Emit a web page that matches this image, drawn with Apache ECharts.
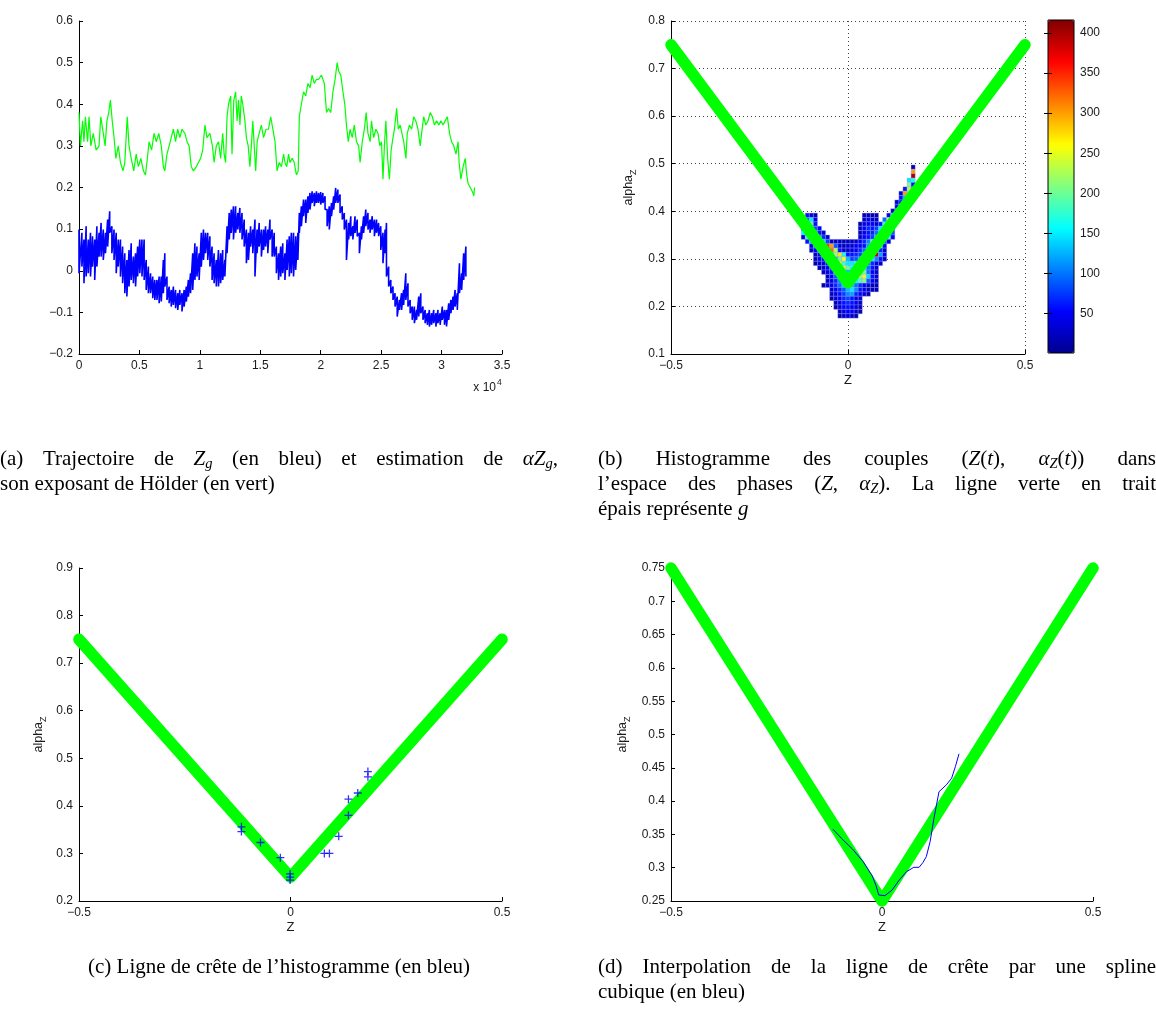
<!DOCTYPE html>
<html>
<head>
<meta charset="utf-8">
<title>Z_g, alpha_Z et ligne de crête</title>
<script src="https://cdn.jsdelivr.net/npm/echarts@6.0.0/dist/echarts.min.js"></script>
<style>
html, body { margin: 0; padding: 0; background: #fff; }
#chart { width: 1156px; height: 1021px; }
</style>
</head>
<body>
<div id="chart"></div>
<script>
// (a) trajectoire, temps en unités de 10^4 échantillons
// estimation de l'exposant de Hölder (vert) : [t, valeur]
const greenTrace = [
  [0, .38], [.012, .30], [.030, .36], [.041, .31], [.053, .37], [.071, .31], [.083, .37], [.098, .30],
  [.118, .33], [.142, .29], [.166, .30], [.180, .37], [.201, .33], [.216, .30], [.231, .36], [.246, .38],
  [.260, .41], [.275, .36], [.290, .32], [.305, .27], [.325, .30], [.343, .26], [.364, .24], [.379, .26],
  [.399, .37], [.414, .30], [.432, .27], [.453, .24], [.473, .28], [.491, .25], [.512, .27], [.533, .24],
  [.550, .23], [.562, .26], [.580, .31], [.601, .29], [.621, .33], [.639, .31], [.660, .33], [.681, .30],
  [.698, .25], [.710, .24], [.728, .28], [.746, .30], [.763, .32], [.781, .34], [.799, .31], [.817, .34],
  [.834, .32], [.852, .34], [.876, .33], [.894, .31], [.911, .30], [.929, .25], [.947, .24], [.971, .25],
  [.988, .26], [1.006, .27], [1.024, .29], [1.042, .35], [1.059, .32], [1.083, .33], [1.104, .30], [1.118, .26],
  [1.136, .30], [1.154, .31], [1.172, .27], [1.189, .33], [1.201, .28], [1.213, .26], [1.225, .37], [1.237, .40],
  [1.255, .42], [1.266, .28], [1.281, .41], [1.296, .43], [1.308, .36], [1.320, .41], [1.332, .35], [1.343, .42],
  [1.355, .40], [1.373, .36], [1.385, .32], [1.400, .30], [1.414, .25], [1.426, .30], [1.438, .36], [1.450, .30],
  [1.462, .24], [1.474, .31], [1.491, .33], [1.509, .35], [1.527, .32], [1.548, .34], [1.568, .34], [1.586, .37],
  [1.604, .34], [1.622, .31], [1.639, .24], [1.657, .26], [1.675, .25], [1.693, .28], [1.704, .26], [1.719, .25],
  [1.734, .28], [1.746, .26], [1.764, .27], [1.781, .26], [1.799, .23], [1.814, .24], [1.823, .37], [1.840, .40],
  [1.858, .43], [1.876, .42], [1.894, .45], [1.912, .44], [1.929, .47], [1.947, .45], [1.965, .46], [1.983, .46],
  [2.006, .47], [2.030, .45], [2.048, .38], [2.065, .39], [2.083, .38], [2.101, .43], [2.119, .46], [2.136, .50],
  [2.148, .48], [2.166, .47], [2.184, .43], [2.199, .40], [2.213, .35], [2.228, .31], [2.243, .34], [2.261, .32],
  [2.278, .35], [2.296, .31], [2.314, .30], [2.326, .26], [2.344, .31], [2.361, .34], [2.376, .38], [2.391, .33],
  [2.409, .31], [2.420, .36], [2.438, .32], [2.456, .34], [2.474, .33], [2.489, .30], [2.503, .31], [2.515, .22],
  [2.527, .30], [2.539, .36], [2.554, .27], [2.568, .22], [2.583, .29], [2.598, .32], [2.610, .34], [2.628, .39],
  [2.642, .34], [2.657, .35], [2.672, .33], [2.687, .31], [2.705, .27], [2.716, .33], [2.734, .35], [2.752, .34],
  [2.770, .37], [2.787, .36], [2.805, .34], [2.823, .30], [2.835, .33], [2.852, .37], [2.870, .35], [2.888, .36],
  [2.906, .38], [2.924, .37], [2.941, .35], [2.959, .36], [2.977, .35], [2.995, .36], [3.012, .35], [3.030, .36],
  [3.048, .37], [3.066, .33], [3.083, .31], [3.101, .30], [3.119, .28], [3.137, .31], [3.145, .26], [3.160, .22],
  [3.178, .25], [3.196, .27], [3.208, .23], [3.219, .21], [3.237, .20], [3.255, .19], [3.267, .18], [3.273, .20]
]

// trajectoire Z_g (bleu), bande bruitée : [t, haut, bas]
const blueTrace = [
  [0, .099, -.006], [.024, .091, .010], [.041, .075, -.030], [.059, .107, -.014], [.077, .075, -.006],
  [.095, .091, -.014], [.112, .083, .010], [.130, .075, -.022], [.148, .107, .010], [.166, .091, .034],
  [.183, .115, .034], [.201, .099, .026], [.219, .091, .042], [.237, .123, .058], [.254, .143, .091],
  [.272, .107, .042], [.290, .099, .026], [.308, .091, -.006], [.325, .075, .010], [.343, .075, -.014],
  [.361, .058, -.030], [.379, .042, -.054], [.396, .026, -.062], [.414, .050, -.038], [.432, .066, -.022],
  [.450, .034, -.030], [.468, .042, -.038], [.485, .058, -.014], [.503, .075, -.006], [.521, .075, -.014],
  [.539, .075, -.022], [.556, .026, -.046], [.574, .010, -.054], [.592, -.006, -.054], [.610, -.014, -.066],
  [.627, -.022, -.070], [.645, -.022, -.070], [.663, -.014, -.078], [.681, -.014, -.074], [.698, .026, -.054],
  [.710, .042, -.038], [.728, -.014, -.070], [.746, -.038, -.078], [.763, -.046, -.086], [.781, -.038, -.082],
  [.799, -.046, -.090], [.817, -.054, -.094], [.834, -.046, -.082], [.852, -.054, -.098], [.870, -.046, -.086],
  [.888, -.038, -.074], [.905, -.022, -.062], [.923, -.006, -.054], [.941, .042, -.046], [.959, .066, -.022],
  [.976, .058, -.014], [.994, .042, -.022], [1.012, .091, .010], [1.030, .099, .026], [1.047, .091, .042],
  [1.065, .091, .026], [1.083, .083, .010], [1.101, .058, -.022], [1.118, .042, -.030], [1.136, .026, -.038],
  [1.154, .050, -.038], [1.172, .042, -.030], [1.189, .050, -.022], [1.207, .026, -.014], [1.225, .107, .042],
  [1.243, .139, .075], [1.260, .147, .091], [1.278, .155, .075], [1.296, .155, .091], [1.314, .139, .099],
  [1.331, .151, .091], [1.349, .139, .075], [1.367, .123, .058], [1.385, .099, .018], [1.402, .091, .026],
  [1.420, .107, .058], [1.438, .099, .042], [1.456, .123, -.014], [1.473, .099, .042], [1.491, .115, .058],
  [1.509, .099, .034], [1.527, .099, .050], [1.544, .107, .058], [1.562, .099, .042], [1.580, .123, .075],
  [1.598, .099, .034], [1.615, .091, .034], [1.633, .058, -.006], [1.651, .042, -.022], [1.669, .058, -.014],
  [1.686, .066, -.006], [1.704, .042, -.022], [1.722, .075, .002], [1.740, .083, -.014], [1.757, .091, -.006],
  [1.775, .091, -.014], [1.793, .083, .002], [1.811, .091, .026], [1.823, .139, .091], [1.840, .155, .107],
  [1.858, .171, .131], [1.876, .171, .115], [1.894, .179, .139], [1.911, .187, .147], [1.929, .191, .163],
  [1.947, .187, .155], [1.965, .191, .163], [1.982, .187, .163], [2.000, .189, .159], [2.018, .187, .163],
  [2.036, .179, .147], [2.053, .147, .107], [2.071, .155, .099], [2.089, .163, .131], [2.107, .179, .147],
  [2.124, .199, .163], [2.142, .195, .163], [2.160, .183, .139], [2.178, .155, .123], [2.195, .139, .099],
  [2.213, .123, .026], [2.231, .115, .075], [2.249, .131, .083], [2.266, .107, .075], [2.284, .131, .091],
  [2.302, .123, .083], [2.320, .091, .042], [2.337, .107, .075], [2.355, .131, .091], [2.373, .147, .107],
  [2.391, .139, .099], [2.408, .123, .091], [2.426, .131, .099], [2.444, .123, .083], [2.462, .123, .091],
  [2.479, .115, .083], [2.497, .107, .050], [2.515, .091, .018], [2.533, .099, .042], [2.544, .115, -.014],
  [2.562, .010, -.038], [2.580, -.022, -.054], [2.598, -.038, -.070], [2.615, -.054, -.086], [2.633, -.062, -.110],
  [2.651, -.070, -.094], [2.669, -.054, -.094], [2.686, -.046, -.082], [2.704, -.006, -.070], [2.722, -.030, -.086],
  [2.740, -.070, -.102], [2.757, -.086, -.118], [2.775, -.086, -.126], [2.793, -.094, -.118], [2.811, -.062, -.110],
  [2.828, -.054, -.102], [2.846, -.086, -.118], [2.864, -.094, -.126], [2.882, -.102, -.130], [2.899, -.094, -.134],
  [2.917, -.102, -.130], [2.935, -.094, -.126], [2.953, -.102, -.134], [2.970, -.094, -.126], [2.988, -.102, -.130],
  [3.006, -.086, -.118], [3.024, -.094, -.130], [3.041, -.094, -.134], [3.059, -.078, -.118], [3.077, -.070, -.102],
  [3.095, -.062, -.094], [3.112, -.046, -.086], [3.130, -.054, -.094], [3.148, .018, -.054], [3.166, -.006, -.046],
  [3.183, .042, -.022], [3.201, .058, -.014]
]

// g(Z) = 0.25 + |Z|, la ligne verte épaisse
const gZ = [-0.5, 0, 0.5]
const gAlpha = [0.75, 0.25, 0.75]

// (b) histogramme 2D : pas des classes, puis lignes [indice alpha, première colonne Z, effectifs]
const BIN_Z = 0.0115
const BIN_A = 0.0092
const ALPHA0 = 0.18
const histRows = [
  [34, 16, [20]], [33, 16, [300]], [32, 16, [400]], [31, 15, [150, 170]], [30, 15, [210, 60]],
  [29, 14, [60, 230, 110]], [28, 13, [25, 300, 190]], [27, 13, [60, 130, 240]], [26, 12, [25, 70, 210, 120]],
  [25, 12, [50, 230, 150]], [24, 11, [25, 90, 200, 70]],
  [23, -10, [60, 40, 20]], [23, 4, [15, 20, 20, 15]], [23, 10, [50, 150, 220, 50]],
  [22, -10, [90, 150, 40]], [22, 4, [20, 40, 30, 20, 0, 100, 230, 120]],
  [21, -11, [40, 250, 190, 60]], [21, 3, [15, 35, 50, 45, 30, 60, 180, 250, 60]],
  [20, -11, [60, 330, 230, 90, 50]], [20, 3, [20, 50, 70, 60, 80, 150, 230, 130, 40]],
  [19, -11, [160, 360, 210, 120, 60, 30]], [19, 3, [20, 40, 60, 70, 100, 150, 260, 320, 90]],
  [18, -11, [30, 180, 240, 150, 120, 70, 30]], [18, 3, [25, 50, 60, 80, 130, 210, 310, 180, 50]],
  [17, -10, [60, 140, 200, 170, 150, 80, 25, 20, 20, 25, 25, 25, 30, 50, 70, 110, 190, 290, 360, 90, 30]],
  [16, -9, [40, 110, 190, 230, 340, 300, 90, 30, 20, 25, 30, 40, 50, 60, 120, 240, 300, 200, 50]],
  [15, -9, [25, 50, 90, 160, 260, 320, 230, 60, 30, 30, 40, 50, 70, 100, 180, 260, 230, 70, 30]],
  [14, -8, [25, 50, 80, 130, 170, 220, 270, 160, 60, 60, 70, 80, 120, 190, 230, 390, 120, 40]],
  [13, -8, [20, 40, 50, 60, 70, 110, 200, 260, 130, 80, 90, 120, 180, 160, 150, 110, 60, 25]],
  [12, -8, [15, 30, 40, 50, 60, 120, 250, 180, 150, 150, 170, 170, 130, 100, 70, 40, 25]],
  [11, -7, [20, 30, 50, 70, 120, 200, 240, 200, 160, 130, 180, 150, 100, 60, 30]],
  [10, -6, [20, 40, 60, 140, 200, 170, 130, 120, 170, 230, 200, 100, 50, 25]],
  [9, -5, [25, 50, 90, 130, 150, 120, 140, 160, 220, 250, 140, 60, 25]],
  [8, -5, [25, 40, 70, 110, 130, 140, 150, 160, 190, 210, 90, 50, 20]],
  [7, -6, [15, 30, 50, 70, 100, 140, 160, 130, 100, 70, 50, 30, 20, 15]],
  [6, -4, [25, 50, 70, 90, 130, 150, 110, 60, 40, 25, 20, 15]],
  [5, -4, [20, 40, 60, 80, 110, 120, 70, 50, 30, 15]],
  [4, -4, [15, 30, 50, 70, 80, 60, 40, 25]],
  [3, -3, [20, 40, 60, 70, 60, 45, 25]],
  [2, -3, [15, 35, 55, 60, 50, 35, 20]],
  [1, -2, [20, 40, 50, 45, 30, 15]],
  [0, -2, [15, 25, 30, 25, 15]]
]
const cbMin = 1
const cbMax = 416
const cbTicks = [50, 100, 150, 200, 250, 300, 350, 400]
// palette jet de MATLAB
const jet = ['#00008f', '#0000ff', '#0080ff', '#00ffff', '#80ff80', '#ffff00', '#ff8000', '#ff0000', '#800000']

// (c) ligne de crête (croix bleues)
const crestZ = [-0.116, -0.116, -0.071, -0.024, -0.001, -0.001, -0.001, 0.080, 0.092, 0.114, 0.137, 0.137, 0.159, 0.183, 0.183]
const crestA = [0.356, 0.346, 0.323, 0.291, 0.257, 0.250, 0.244, 0.300, 0.300, 0.336, 0.380, 0.414, 0.427, 0.472, 0.461]

// (d) spline cubique
const splineZ = [-0.1165, -0.096, -0.070, -0.0446, -0.0231, -0.0146, -0.0077, 0.0069, 0.024, 0.041, 0.058, 0.0754,
  0.088, 0.0968, 0.105, 0.114, 0.1225, 0.135, 0.1525, 0.165, 0.174, 0.1825]
const splineA = [0.358, 0.344, 0.328, 0.309, 0.2876, 0.274, 0.259, 0.258, 0.2665, 0.2816, 0.294, 0.3006,
  0.3006, 0.3076, 0.3166, 0.339, 0.372, 0.414, 0.4244, 0.4344, 0.452, 0.471]

const SANS = '"Liberation Sans", Arial, Helvetica, sans-serif'
const SERIF = '"Liberation Serif", "Times New Roman", Times, serif'
const INK = '#1a1a1a'
const GREEN = '#00ff00'
const BLUE = '#0000ff'

const fmt = v => String(+(+v).toFixed(4)).replace('-', '\u2212')

function valAxis (gridIndex, min, max, interval) {
  return {
    gridIndex, type: 'value', min, max, interval,
    axisLine: { show: true, onZero: false, lineStyle: { color: '#000', width: 1 } },
    axisTick: { show: true, inside: true, length: 4, lineStyle: { color: '#000' } },
    axisLabel: { color: INK, fontSize: 12, fontFamily: SANS, margin: 6, formatter: fmt },
    splitLine: { show: false }
  }
}
function zAxis (gridIndex) {
  return Object.assign(valAxis(gridIndex, -0.5, 0.5, 0.5), {
    name: 'Z', nameLocation: 'middle', nameGap: 20,
    nameTextStyle: { fontSize: 13, fontFamily: SANS, color: INK }
  })
}
function alphaAxis (gridIndex, min, max, interval, gap) {
  return Object.assign(valAxis(gridIndex, min, max, interval), {
    name: 'alpha{sub|Z}', nameLocation: 'middle', nameRotate: 90, nameGap: gap,
    nameTextStyle: {
      fontSize: 12.5, fontFamily: SANS, color: INK, lineHeight: 18,
      rich: { sub: { fontSize: 9, fontFamily: SANS, color: INK, lineHeight: 18, verticalAlign: 'bottom' } }
    }
  })
}
const dotted = { show: true, lineStyle: { type: [1, 3], color: '#444', width: 1 } }

function vLine (xi) {
  return {
    type: 'line', xAxisIndex: xi, yAxisIndex: xi, showSymbol: false, clip: false, z: 3,
    data: gZ.map((z, i) => [z, gAlpha[i]]),
    lineStyle: { color: GREEN, width: 11.5, cap: 'round', join: 'round' }
  }
}

// données des séries
const blueData = []
blueTrace.forEach(([t, hi, lo]) => { blueData.push([t, hi]); blueData.push([t, lo]) })
const heatData = []
histRows.forEach(([r, c0, counts]) => {
  counts.forEach((n, k) => { if (n > 0) heatData.push([(c0 + k) * BIN_Z, ALPHA0 + r * BIN_A, n]) })
})

// légendes sous les figures (texte justifié comme dans LaTeX)
const CAP_SIZE = 21
const capLines = [
  { x: 0, y: 459, w: 558, align: 'justify', text: '(a) Trajectoire de $Z_g$ (en bleu) et estimation de $αZ_g$,' },
  { x: 0, y: 484, align: 'left', text: 'son exposant de Hölder (en vert)' },
  { x: 598, y: 459, w: 558, align: 'justify', text: '(b) Histogramme des couples $(Z(t),$ $α_Z(t))$ dans' },
  { x: 598, y: 484, w: 558, align: 'justify', text: 'l’espace des phases $(Z,$ $α_Z)$. La ligne verte en trait' },
  { x: 598, y: 509, align: 'left', text: 'épais représente $g$' },
  { x: 279, y: 967, align: 'center', text: '(c) Ligne de crête de l’histogramme (en bleu)' },
  { x: 598, y: 967, w: 558, align: 'justify', text: '(d) Interpolation de la ligne de crête par une spline' },
  { x: 598, y: 992, align: 'left', text: 'cubique (en bleu)' }
]
const ctx = document.createElement('canvas').getContext('2d')
const fontOf = kind => kind === 's' ? `italic 14.5px ${SERIF}` : (kind === 'i' ? `italic ${CAP_SIZE}px ${SERIF}` : `${CAP_SIZE}px ${SERIF}`)
const measure = seg => { ctx.font = fontOf(seg[1]); return ctx.measureText(seg[0]).width }

function parseWords (str) {
  let inMath = false
  return str.split(' ').map(w => {
    const segs = []
    let subNext = false
    for (const ch of w) {
      if (ch === '$') { inMath = !inMath; continue }
      if (inMath && ch === '_') { subNext = true; continue }
      let kind = 'r'
      if (subNext) { kind = 's'; subNext = false } else if (inMath && /[A-Za-zα]/.test(ch)) kind = 'i'
      const last = segs[segs.length - 1]
      if (last && last[1] === kind) last[0] += ch
      else segs.push([ch, kind])
    }
    return segs
  })
}

const graphics = []
capLines.forEach(line => {
  const words = parseWords(line.text)
  const widths = words.map(ws => ws.reduce((s, sg) => s + measure(sg), 0))
  const total = widths.reduce((a, b) => a + b, 0)
  const space = measure([' ', 'r'])
  let gap = space
  let x = line.x
  if (line.align === 'justify' && words.length > 1) gap = (line.w - total) / (words.length - 1)
  if (line.align === 'center') x = line.x - (total + space * (words.length - 1)) / 2
  words.forEach((ws, i) => {
    let cx = x
    ws.forEach(sg => {
      graphics.push({
        type: 'text', x: cx, y: line.y + (sg[1] === 's' ? 5 : 0), silent: true,
        style: { text: sg[0], font: fontOf(sg[1]), fill: '#000', textAlign: 'left', textVerticalAlign: 'middle' }
      })
      cx += measure(sg)
    })
    x += widths[i] + gap
  })
})
// facteur d'échelle de l'axe du temps
graphics.push({
  type: 'text', x: 496, y: 388, silent: true,
  style: { text: 'x 10', font: `12px ${SANS}`, fill: INK, textAlign: 'right', textVerticalAlign: 'middle' }
})
graphics.push({
  type: 'text', x: 497, y: 383, silent: true,
  style: { text: '4', font: `8.5px ${SANS}`, fill: INK, textAlign: 'left', textVerticalAlign: 'middle' }
})

const chart = echarts.init(document.getElementById('chart'), null, { renderer: 'canvas' })
const option = {
  animation: false,
  backgroundColor: '#fff',
  grid: [
    { left: 79, top: 21, width: 423, height: 333 },
    { left: 671, top: 21, width: 354, height: 333 },
    { left: 79, top: 568, width: 423, height: 333 },
    { left: 671, top: 568, width: 422, height: 333 },
    { left: 1048, top: 20, width: 26, height: 333, show: true, borderColor: '#000', borderWidth: 1, backgroundColor: 'transparent', z: 6 }
  ],
  xAxis: [
    valAxis(0, 0, 3.5, 0.5),
    Object.assign(zAxis(1), { splitLine: dotted }),
    zAxis(2),
    zAxis(3),
    { gridIndex: 4, type: 'value', show: false, min: 0, max: 1 }
  ],
  yAxis: [
    valAxis(0, -0.2, 0.6, 0.1),
    Object.assign(alphaAxis(1, 0.1, 0.8, 0.1, 33), { splitLine: dotted }),
    alphaAxis(2, 0.2, 0.9, 0.1, 31),
    alphaAxis(3, 0.25, 0.75, 0.05, 39),
    {
      gridIndex: 4, type: 'value', min: cbMin, max: cbMax, position: 'right', z: 6,
      axisLine: { show: false },
      axisTick: { show: true, inside: true, length: 4, customValues: cbTicks, lineStyle: { color: '#000' } },
      axisLabel: { customValues: cbTicks, color: INK, fontSize: 12, fontFamily: SANS, margin: 6 },
      splitLine: { show: false }
    },
    {
      gridIndex: 4, type: 'value', min: cbMin, max: cbMax, position: 'left', z: 6,
      axisLine: { show: false },
      axisTick: { show: true, inside: true, length: 4, customValues: cbTicks, lineStyle: { color: '#000' } },
      axisLabel: { show: false },
      splitLine: { show: false }
    }
  ],
  visualMap: {
    type: 'continuous', seriesIndex: 2, dimension: 2, min: cbMin, max: cbMax,
    left: 1048, top: 20, itemWidth: 26, itemHeight: 333, padding: 0,
    calculable: false, hoverLink: false, text: null,
    inRange: { color: jet }
  },
  graphic: { elements: graphics },
  series: [
    {
      type: 'line', xAxisIndex: 0, yAxisIndex: 0, showSymbol: false,
      data: greenTrace, lineStyle: { color: GREEN, width: 1.2 }
    },
    {
      type: 'line', xAxisIndex: 0, yAxisIndex: 0, showSymbol: false,
      data: blueData, lineStyle: { color: BLUE, width: 1.6 }
    },
    {
      type: 'custom', xAxisIndex: 1, yAxisIndex: 1, z: 2,
      data: heatData,
      encode: { x: 0, y: 1 },
      renderItem (params, api) {
        const z = api.value(0)
        const a = api.value(1)
        const p1 = api.coord([z - BIN_Z / 2, a + BIN_A / 2])
        const p2 = api.coord([z + BIN_Z / 2, a - BIN_A / 2])
        return {
          type: 'rect',
          shape: { x: p1[0], y: p1[1], width: p2[0] - p1[0], height: p2[1] - p1[1] },
          style: { fill: api.visual('color'), stroke: 'rgba(150,150,255,0.55)', lineWidth: 0.6 }
        }
      }
    },
    vLine(1),
    vLine(2),
    {
      type: 'scatter', xAxisIndex: 2, yAxisIndex: 2, z: 4,
      symbol: 'path://M4.2,0h1.6v10h-1.6z M0,4.2h10v1.6h-10z', symbolSize: 8,
      itemStyle: { color: BLUE },
      data: crestZ.map((z, i) => [z, crestA[i]])
    },
    vLine(3),
    {
      type: 'line', xAxisIndex: 3, yAxisIndex: 3, showSymbol: false, z: 4,
      data: splineZ.map((z, i) => [z, splineA[i]]),
      lineStyle: { color: BLUE, width: 1 }
    }
  ]
}
chart.setOption(option)
</script>
</body>
</html>
